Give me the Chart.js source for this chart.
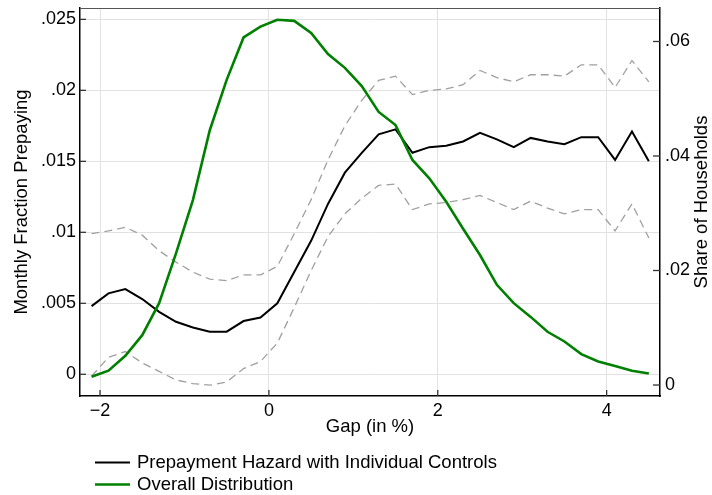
<!DOCTYPE html>
<html><head><meta charset="utf-8">
<script src="https://cdn.jsdelivr.net/npm/chart.js@4"></script>
<style>html,body{margin:0;padding:0;background:#fff;}#wrap{width:712px;height:495px;position:relative;}</style>
</head><body><div id="wrap"><canvas id="c"></canvas></div>
<script>
const gap = [-2.1,-1.9,-1.7,-1.5,-1.3,-1.1,-0.9,-0.7,-0.5,-0.3,-0.1,0.1,0.3,0.5,0.7,0.9,1.1,1.3,1.5,1.7,1.9,2.1,2.3,2.5,2.7,2.9,3.1,3.3,3.5,3.7,3.9,4.1,4.3,4.5];
const hazard = [0.0048,0.0057,0.0060,0.0053,0.0044,0.0037,0.0033,0.0030,0.0030,0.00375,0.0040,0.0050,0.0072,0.0094,0.0120,0.0142,0.0156,0.0169,0.01725,0.0156,0.0160,0.0161,0.0164,0.0170,0.01655,0.0160,0.01665,0.0164,0.0162,0.0167,0.0167,0.0151,0.0171,0.0150];
const hazardUpper = [0.0099,0.0101,0.01035,0.0098,0.0087,0.0079,0.0072,0.0067,0.0066,0.0070,0.0070,0.0076,0.0099,0.0123,0.0151,0.0175,0.0193,0.0207,0.0210,0.0197,0.0200,0.0201,0.0204,0.0214,0.0209,0.0206,0.0211,0.0211,0.0210,0.0218,0.0218,0.0202,0.0221,0.0206];
const hazardLower = [-0.00014,0.0012,0.0016,0.0008,0.0002,-0.0004,-0.00066,-0.00077,-0.00054,0.0004,0.0009,0.0022,0.0047,0.0073,0.0097,0.0113,0.0124,0.0133,0.0134,0.0116,0.0120,0.0121,0.0123,0.0126,0.0121,0.0116,0.0122,0.0117,0.0113,0.0116,0.0116,0.0101,0.0120,0.0096];
const shareHouseholds = [0.00145,0.0025,0.0051,0.0087,0.0143,0.0230,0.0323,0.0445,0.0533,0.0607,0.0626,0.0638,0.0636,0.0615,0.0578,0.0554,0.0522,0.0477,0.0454,0.0393,0.0361,0.0320,0.0273,0.0227,0.0175,0.0143,0.0119,0.0093,0.0076,0.0054,0.0041,0.0033,0.0025,0.0020];
const xTickValues = [-2,0,2,4];
const xTickLabels = ['\u22122','0','2','4'];
const leftTickValues = [0,0.005,0.01,0.015,0.02,0.025];
const leftTickLabels = ['0','.005','.01','.015','.02','.025'];
const rightTickValues = [0,0.02,0.04,0.06];
const rightTickLabels = ['0','.02','.04','.06'];
const seriesLabels = ['Prepayment Hazard with Individual Controls','Overall Distribution'];
const xTitle = 'Gap (in %)';
const leftTitle = 'Monthly Fraction Prepaying';
const rightTitle = 'Share of Households';

const FONT = "'Liberation Sans', Arial, Helvetica, sans-serif";
const pts = (ys) => gap.map((g,i)=>({x:g,y:ys[i]}));
const noPad = (sc)=>{sc.paddingTop=0;sc.paddingBottom=0;sc.paddingLeft=0;sc.paddingRight=0;};

const decor = {
  id:'decor',
  afterDraw(chart){
    const ctx = chart.ctx, a = chart.chartArea, s = chart.scales;
    ctx.save();
    ctx.strokeStyle = '#555'; ctx.lineWidth = 1;
    ctx.beginPath(); ctx.moveTo(a.left, a.top+0.5); ctx.lineTo(a.right, a.top+0.5); ctx.stroke();
    ctx.strokeStyle = '#333'; ctx.lineWidth = 1.3;
    leftTickValues.forEach(v=>{const y=s.yL.getPixelForValue(v);ctx.beginPath();ctx.moveTo(a.left,y);ctx.lineTo(a.left+6,y);ctx.stroke();});
    rightTickValues.forEach(v=>{const y=s.yR.getPixelForValue(v);ctx.beginPath();ctx.moveTo(a.right,y);ctx.lineTo(a.right-7,y);ctx.stroke();});
    xTickValues.forEach(v=>{const x=s.x.getPixelForValue(v);ctx.beginPath();ctx.moveTo(x,a.bottom);ctx.lineTo(x,a.bottom-6);ctx.stroke();});
    ctx.fillStyle = '#000';
    ctx.font = '18.5px ' + FONT;
    ctx.textAlign = 'center'; ctx.textBaseline = 'middle';
    ctx.translate(702, (a.top+a.bottom)/2);
    ctx.rotate(-Math.PI/2);
    ctx.fillText(rightTitle, 0, 0);
    ctx.restore();
    ctx.save();
    const items = chart.data.datasets.filter(d=>d.legendRow !== undefined).sort((p,q)=>p.legendRow-q.legendRow);
    items.forEach((d,i)=>{
      const y = 462.5 + i*22;
      ctx.strokeStyle = d.borderColor; ctx.lineWidth = d.borderWidth; ctx.setLineDash([]);
      ctx.beginPath(); ctx.moveTo(95,y); ctx.lineTo(130,y); ctx.stroke();
      ctx.fillStyle = '#000'; ctx.font = '18.5px ' + FONT;
      ctx.textAlign = 'left'; ctx.textBaseline = 'middle';
      ctx.fillText(d.label, 137, y+0.5);
    });
    ctx.restore();
  }
};

new Chart(document.getElementById('c'), {
  type:'line',
  data:{datasets:[
    {label:seriesLabels[1], data:pts(shareHouseholds), yAxisID:'yR', borderColor:'#008000', borderWidth:2.6, pointRadius:0, tension:0, order:0, legendRow:1, fill:false},
    {label:seriesLabels[0], data:pts(hazard), yAxisID:'yL', borderColor:'#000000', borderWidth:2, pointRadius:0, tension:0, order:1, legendRow:0, fill:false},
    {label:'Upper', data:pts(hazardUpper), yAxisID:'yL', borderColor:'#a0a0a0', borderWidth:1.3, borderDash:[8,5], pointRadius:0, tension:0, order:2, fill:false},
    {label:'Lower', data:pts(hazardLower), yAxisID:'yL', borderColor:'#a0a0a0', borderWidth:1.3, borderDash:[8,5], pointRadius:0, tension:0, order:2, fill:false}
  ]},
  options:{
    responsive:true, maintainAspectRatio:false, animation:false,
    layout:{padding:{top:8,left:0,right:0,bottom:0}},
    plugins:{legend:{display:false}, tooltip:{enabled:false}},
    scales:{
      x:{type:'linear', position:'bottom', min:-2.237, max:4.632,
        afterBuildTicks:(sc)=>{sc.ticks = xTickValues.map(v=>({value:v}));},
        afterFit:(sc)=>{sc.height = 99; noPad(sc);},
        ticks:{autoSkip:false, maxRotation:0, padding:4, color:'#000', font:{family:FONT,size:18},
          callback:(v)=>xTickLabels[xTickValues.indexOf(v)]},
        grid:{color:'#e2e2e2', lineWidth:1, drawTicks:false},
        border:{display:true, color:'#000', width:1.5},
        title:{display:true, text:xTitle, color:'#000', font:{family:FONT,size:18.5}, padding:{top:0,bottom:57}}
      },
      yL:{type:'linear', position:'left', min:-0.00153, max:0.0258,
        afterBuildTicks:(sc)=>{sc.ticks = leftTickValues.map(v=>({value:v}));},
        afterFit:(sc)=>{sc.width = 80; noPad(sc);},
        ticks:{autoSkip:false, padding:4, color:'#000', font:{family:FONT,size:18},
          callback:(v)=>leftTickLabels[leftTickValues.indexOf(v)]},
        grid:{color:'#e2e2e2', lineWidth:1, drawTicks:false},
        border:{display:true, color:'#000', width:1.5},
        title:{display:true, text:leftTitle, color:'#000', font:{family:FONT,size:18.5}, padding:{top:10.5,bottom:0}}
      },
      yR:{type:'linear', position:'right', min:-0.00192, max:0.06585,
        afterBuildTicks:(sc)=>{sc.ticks = rightTickValues.map(v=>({value:v}));},
        afterFit:(sc)=>{sc.width = 52; noPad(sc);},
        ticks:{autoSkip:false, padding:5, color:'#000', font:{family:FONT,size:18},
          callback:(v)=>rightTickLabels[rightTickValues.indexOf(v)]},
        grid:{display:false, drawTicks:false},
        border:{display:true, color:'#000', width:1.5},
        title:{display:false}
      }
    }
  },
  plugins:[decor]
});
</script></body></html>
